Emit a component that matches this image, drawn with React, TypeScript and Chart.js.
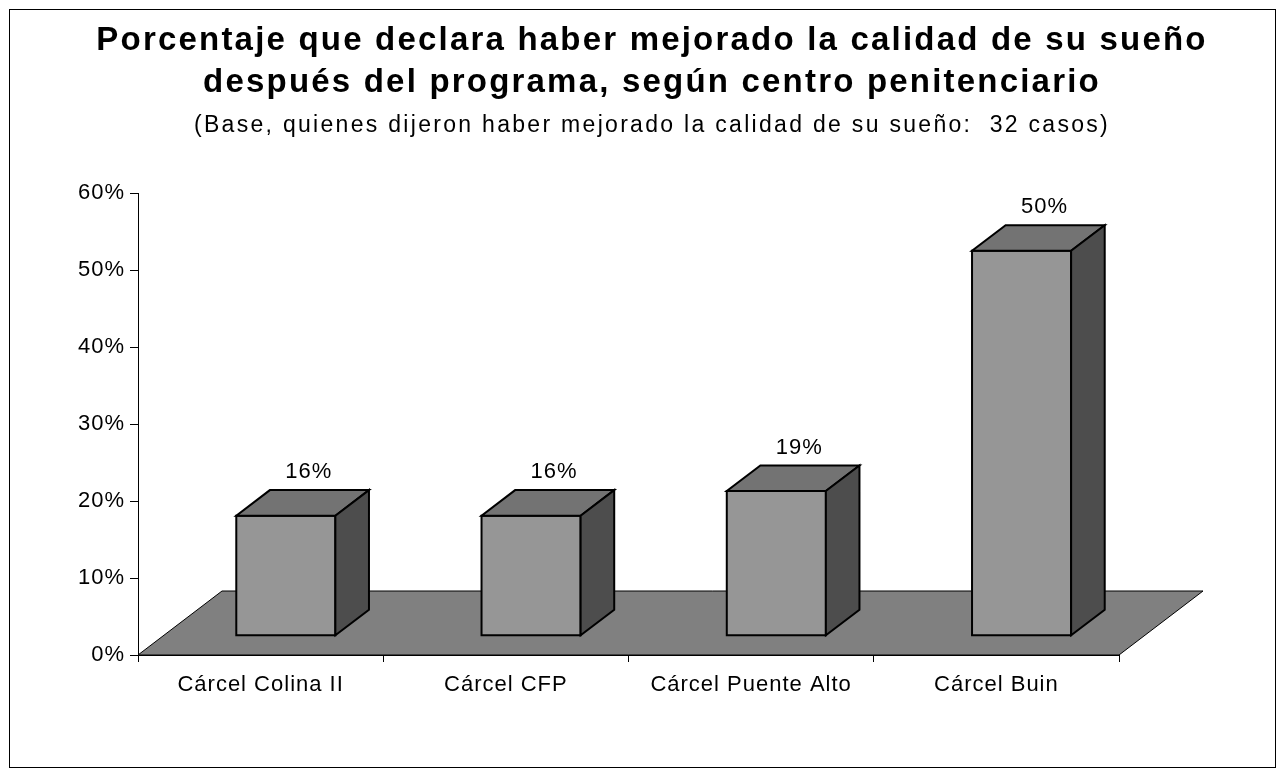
import { useEffect, useRef } from "react";
import { Chart, registerables } from "chart.js";

Chart.register(...registerables);

const titleLines = [
  "Porcentaje que declara haber mejorado la calidad de su sueño",
  "después del programa, según centro penitenciario",
];
const subtitle =
  "(Base, quienes dijeron haber mejorado la calidad de su sueño:  32 casos)";

const categories = [
  "Cárcel Colina II",
  "Cárcel CFP",
  "Cárcel Puente Alto",
  "Cárcel Buin",
];
const values = [15.6, 15.6, 18.8, 50.0];
const valueLabels = ["16%", "16%", "19%", "50%"];
const yTicks = [0, 10, 20, 30, 40, 50, 60];

const font = "'Liberation Sans', Arial, sans-serif";

// depth of the floor, and where the bars sit inside it (fractions)
const depth = { x: 84, y: -64 };
const barFront = 0.3;
const barBack = 0.7;

const frame = {
  id: "frame",
  beforeDraw(chart: Chart) {
    const { ctx, width } = chart;
    ctx.save();
    ctx.fillStyle = "#fff";
    ctx.fillRect(0, 0, width, chart.height);
    ctx.strokeStyle = "#000";
    ctx.lineWidth = 1;
    ctx.strokeRect(9.5, 9.5, 1266, 758);

    ctx.fillStyle = "#000";
    ctx.textAlign = "center";
    ctx.textBaseline = "alphabetic";
    ctx.font = `bold 33px ${font}`;
    (ctx as any).letterSpacing = "2.2px";
    titleLines.forEach((line, i) => ctx.fillText(line, 652, 50 + i * 42));
    ctx.font = `23px ${font}`;
    (ctx as any).letterSpacing = "2.3px";
    ctx.fillText(subtitle, 652, 132);
    ctx.restore();

    // the old-style text in the picture is a little wider than the font
    (ctx as any).letterSpacing = "1px";
  },
};

const threeD = {
  id: "threeD",
  beforeDatasetsDraw(chart: Chart) {
    const { ctx, chartArea } = chart;
    const { left, right, bottom } = chartArea;
    ctx.save();
    ctx.beginPath();
    ctx.moveTo(left, bottom);
    ctx.lineTo(right, bottom);
    ctx.lineTo(right + depth.x, bottom + depth.y);
    ctx.lineTo(left + depth.x, bottom + depth.y);
    ctx.closePath();
    ctx.fillStyle = "#808080";
    ctx.fill();
    ctx.strokeStyle = "#000";
    ctx.lineWidth = 1;
    ctx.stroke();
    ctx.restore();
  },
  afterDatasetsDraw(chart: Chart) {
    const { ctx } = chart;
    const meta = chart.getDatasetMeta(0);
    const fx = depth.x * barFront;
    const fy = depth.y * barFront;
    const bx = depth.x * (barBack - barFront);
    const by = depth.y * (barBack - barFront);

    ctx.save();
    ctx.lineWidth = 2;
    ctx.strokeStyle = "#000";
    ctx.lineJoin = "miter";
    meta.data.forEach((el: any, i) => {
      const x0 = el.x - el.width / 2 + fx;
      const x1 = el.x + el.width / 2 + fx;
      const top = el.y + fy;
      const base = el.base + fy;

      // front
      ctx.beginPath();
      ctx.rect(x0, top, x1 - x0, base - top);
      ctx.fillStyle = "#969696";
      ctx.fill();
      ctx.stroke();

      // top
      ctx.beginPath();
      ctx.moveTo(x0, top);
      ctx.lineTo(x1, top);
      ctx.lineTo(x1 + bx, top + by);
      ctx.lineTo(x0 + bx, top + by);
      ctx.closePath();
      ctx.fillStyle = "#737373";
      ctx.fill();
      ctx.stroke();

      // side
      ctx.beginPath();
      ctx.moveTo(x1, top);
      ctx.lineTo(x1 + bx, top + by);
      ctx.lineTo(x1 + bx, base + by);
      ctx.lineTo(x1, base);
      ctx.closePath();
      ctx.fillStyle = "#4d4d4d";
      ctx.fill();
      ctx.stroke();

      ctx.fillStyle = "#000";
      ctx.font = `22px ${font}`;
      ctx.textAlign = "center";
      ctx.textBaseline = "middle";
      ctx.fillText(valueLabels[i], el.x + fx + 23, top + by - 18);
    });
    ctx.restore();
  },
};

export default function App() {
  const canvasRef = useRef<HTMLCanvasElement | null>(null);

  useEffect(() => {
    const canvas = canvasRef.current;
    if (!canvas) {
      return;
    }

    const chart = new Chart(canvas, {
      type: "bar",
      data: {
        labels: categories,
        datasets: [
          {
            data: values,
            backgroundColor: "rgba(0,0,0,0)",
            borderWidth: 0,
            barPercentage: 0.404,
            categoryPercentage: 1,
          },
        ],
      },
      options: {
        animation: false,
        responsive: true,
        maintainAspectRatio: false,
        layout: {
          padding: { top: 193, left: 0, right: 169, bottom: 61 },
        },
        plugins: {
          legend: { display: false },
          tooltip: { enabled: false },
        },
        scales: {
          x: {
            afterFit: (scale) => {
              scale.height = 60;
            },
            border: { display: true, color: "#000", width: 1 },
            grid: {
              offset: true,
              drawOnChartArea: false,
              color: "#000",
              tickLength: 7,
            },
            ticks: {
              color: "#000",
              font: { family: font, size: 22 },
              padding: 10,
              maxRotation: 0,
            },
          },
          y: {
            min: 0,
            max: 60,
            afterFit: (scale) => {
              scale.width = 138;
            },
            afterBuildTicks: (scale) => {
              scale.ticks = yTicks.map((value) => ({ value }));
            },
            border: { display: true, color: "#000", width: 1 },
            grid: {
              drawOnChartArea: false,
              color: "#000",
              tickLength: 8,
            },
            ticks: {
              color: "#000",
              font: { family: font, size: 22 },
              padding: 5,
              callback: (value) => `${value}%`,
            },
          },
        },
      },
      plugins: [frame, threeD],
    });

    return () => {
      chart.destroy();
    };
  }, []);

  return (
    <div
      style={{
        position: "fixed",
        left: 0,
        top: 0,
        width: 1288,
        height: 776,
        background: "#fff",
      }}
    >
      <canvas ref={canvasRef} />
    </div>
  );
}
